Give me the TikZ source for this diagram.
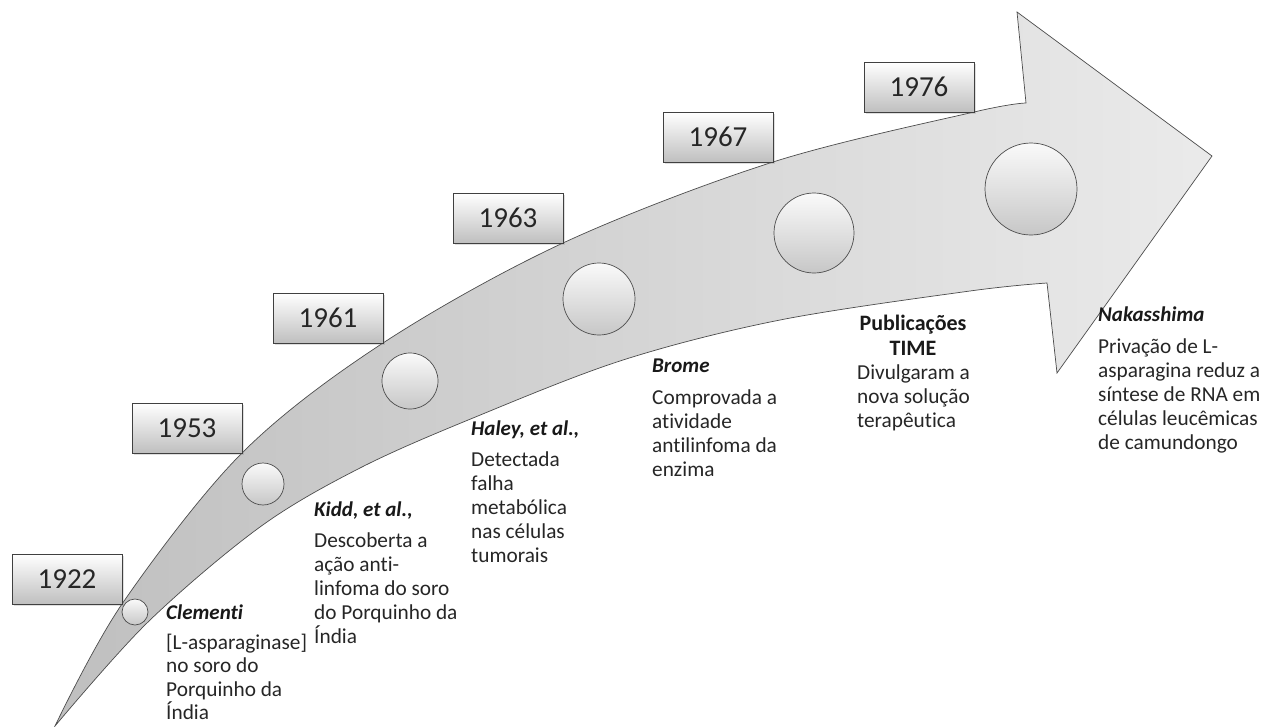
\documentclass[tikz,border=0pt]{standalone}
\usepackage{fontspec}
\setmainfont{Carlito}[Ligatures=CommonOff]
\usetikzlibrary{shadows}
\newcommand{\blk}[1]{\vtop{\halign{##\hfil\cr#1\crcr}}}
\newcommand{\cblk}[1]{\vtop{\halign{\hfil##\hfil\cr#1\crcr}}}
\begin{document}
\begin{tikzpicture}[x=1pt,y=-1pt,
  yearbox/.style={draw=black!75, line width=0.7pt, top color=white, bottom color=black!25,
    minimum width=110pt, minimum height=50pt, inner sep=0pt,
    font=\fontsize{29}{32}\selectfont, text=black!85,
    drop shadow={shadow xshift=1.5pt, shadow yshift=-1.5pt, opacity=0.25}},
  dot/.style={circle, draw=black!70, line width=0.7pt, top color=black!2, bottom color=black!22, inner sep=0pt},
  hdr/.style={anchor=base west, inner sep=0pt, text=black!90, font=\fontsize{21}{24}\selectfont\bfseries\itshape},
  txt/.style={anchor=base west, inner sep=0pt, text=black!85, font=\fontsize{21.3}{24}\selectfont},
  phdr/.style={anchor=base, inner sep=0pt, text=black!90, font=\fontsize{22}{25}\selectfont\bfseries},
]
\useasboundingbox (0,0) rectangle (1277,726);

% big curved arrow
\path[draw=black!70, line width=0.7pt, left color=black!25, right color=black!8]
  plot[smooth, tension=0.55] coordinates {(55,726) (122,604) (242,453) (383,343) (563,243) (773,162) (974,112) (1026,103)}
  -- (1017,12) -- (1212,156) -- (1057,373) -- (1047,283)
  -- plot[smooth, tension=0.55] coordinates {(1047,283) (970,291) (780,320) (623,360) (473,418) (360,468) (260,527) (148,622) (55,726)}
  -- cycle;

% circles
\node[dot, minimum size=26pt] (c1) at (135,612) {};
\node[dot, minimum size=42pt] (c2) at (263,484) {};
\node[dot, minimum size=56pt] (c3) at (410,381) {};
\node[dot, minimum size=72pt] (c4) at (599,299) {};
\node[dot, minimum size=80pt] (c5) at (814,233) {};
\node[dot, minimum size=92pt] (c6) at (1031,189) {};

% year boxes
\node[yearbox] (y1922) at (67,579) {1922};
\node[yearbox] (y1953) at (187,428) {1953};
\node[yearbox] (y1961) at (328,318) {1961};
\node[yearbox] (y1963) at (508,218) {1963};
\node[yearbox] (y1967) at (718,137) {1967};
\node[yearbox] (y1976) at (919,87) {1976};

% texts
\node[hdr] (h1) at (166,619) {Clementi};
\node[txt, font=\fontsize{21.3}{23.5}\selectfont] (t1) at (166,649) {\blk{[L-asparaginase]\cr no soro do\cr Porquinho da\cr Índia}};

\node[hdr] (h2) at (314,516) {Kidd, et al.,};
\node[txt] (t2) at (314,547) {\blk{Descoberta a\cr ação anti-\cr linfoma do soro\cr do Porquinho da\cr Índia}};

\node[hdr] (h3) at (471,435) {Haley, et al.,};
\node[txt] (t3) at (471,466) {\blk{Detectada\cr falha\cr metabólica\cr nas células\cr tumorais}};

\node[hdr] (h4) at (652,372) {Brome};
\node[txt] (t4) at (652,404) {\blk{Comprovada a\cr atividade\cr antilinfoma da\cr enzima}};

\node[phdr] (h5) at (913,330) {\cblk{Publicações\cr TIME}};
\node[txt] (t5) at (857,379) {\blk{Divulgaram a\cr nova solução\cr terapêutica}};

\node[hdr] (h6) at (1098,321) {Nakasshima};
\node[txt] (t6) at (1098,353) {\blk{Privação de L-\cr asparagina reduz a\cr síntese de RNA em\cr células leucêmicas\cr de camundongo}};
\end{tikzpicture}
\end{document}
